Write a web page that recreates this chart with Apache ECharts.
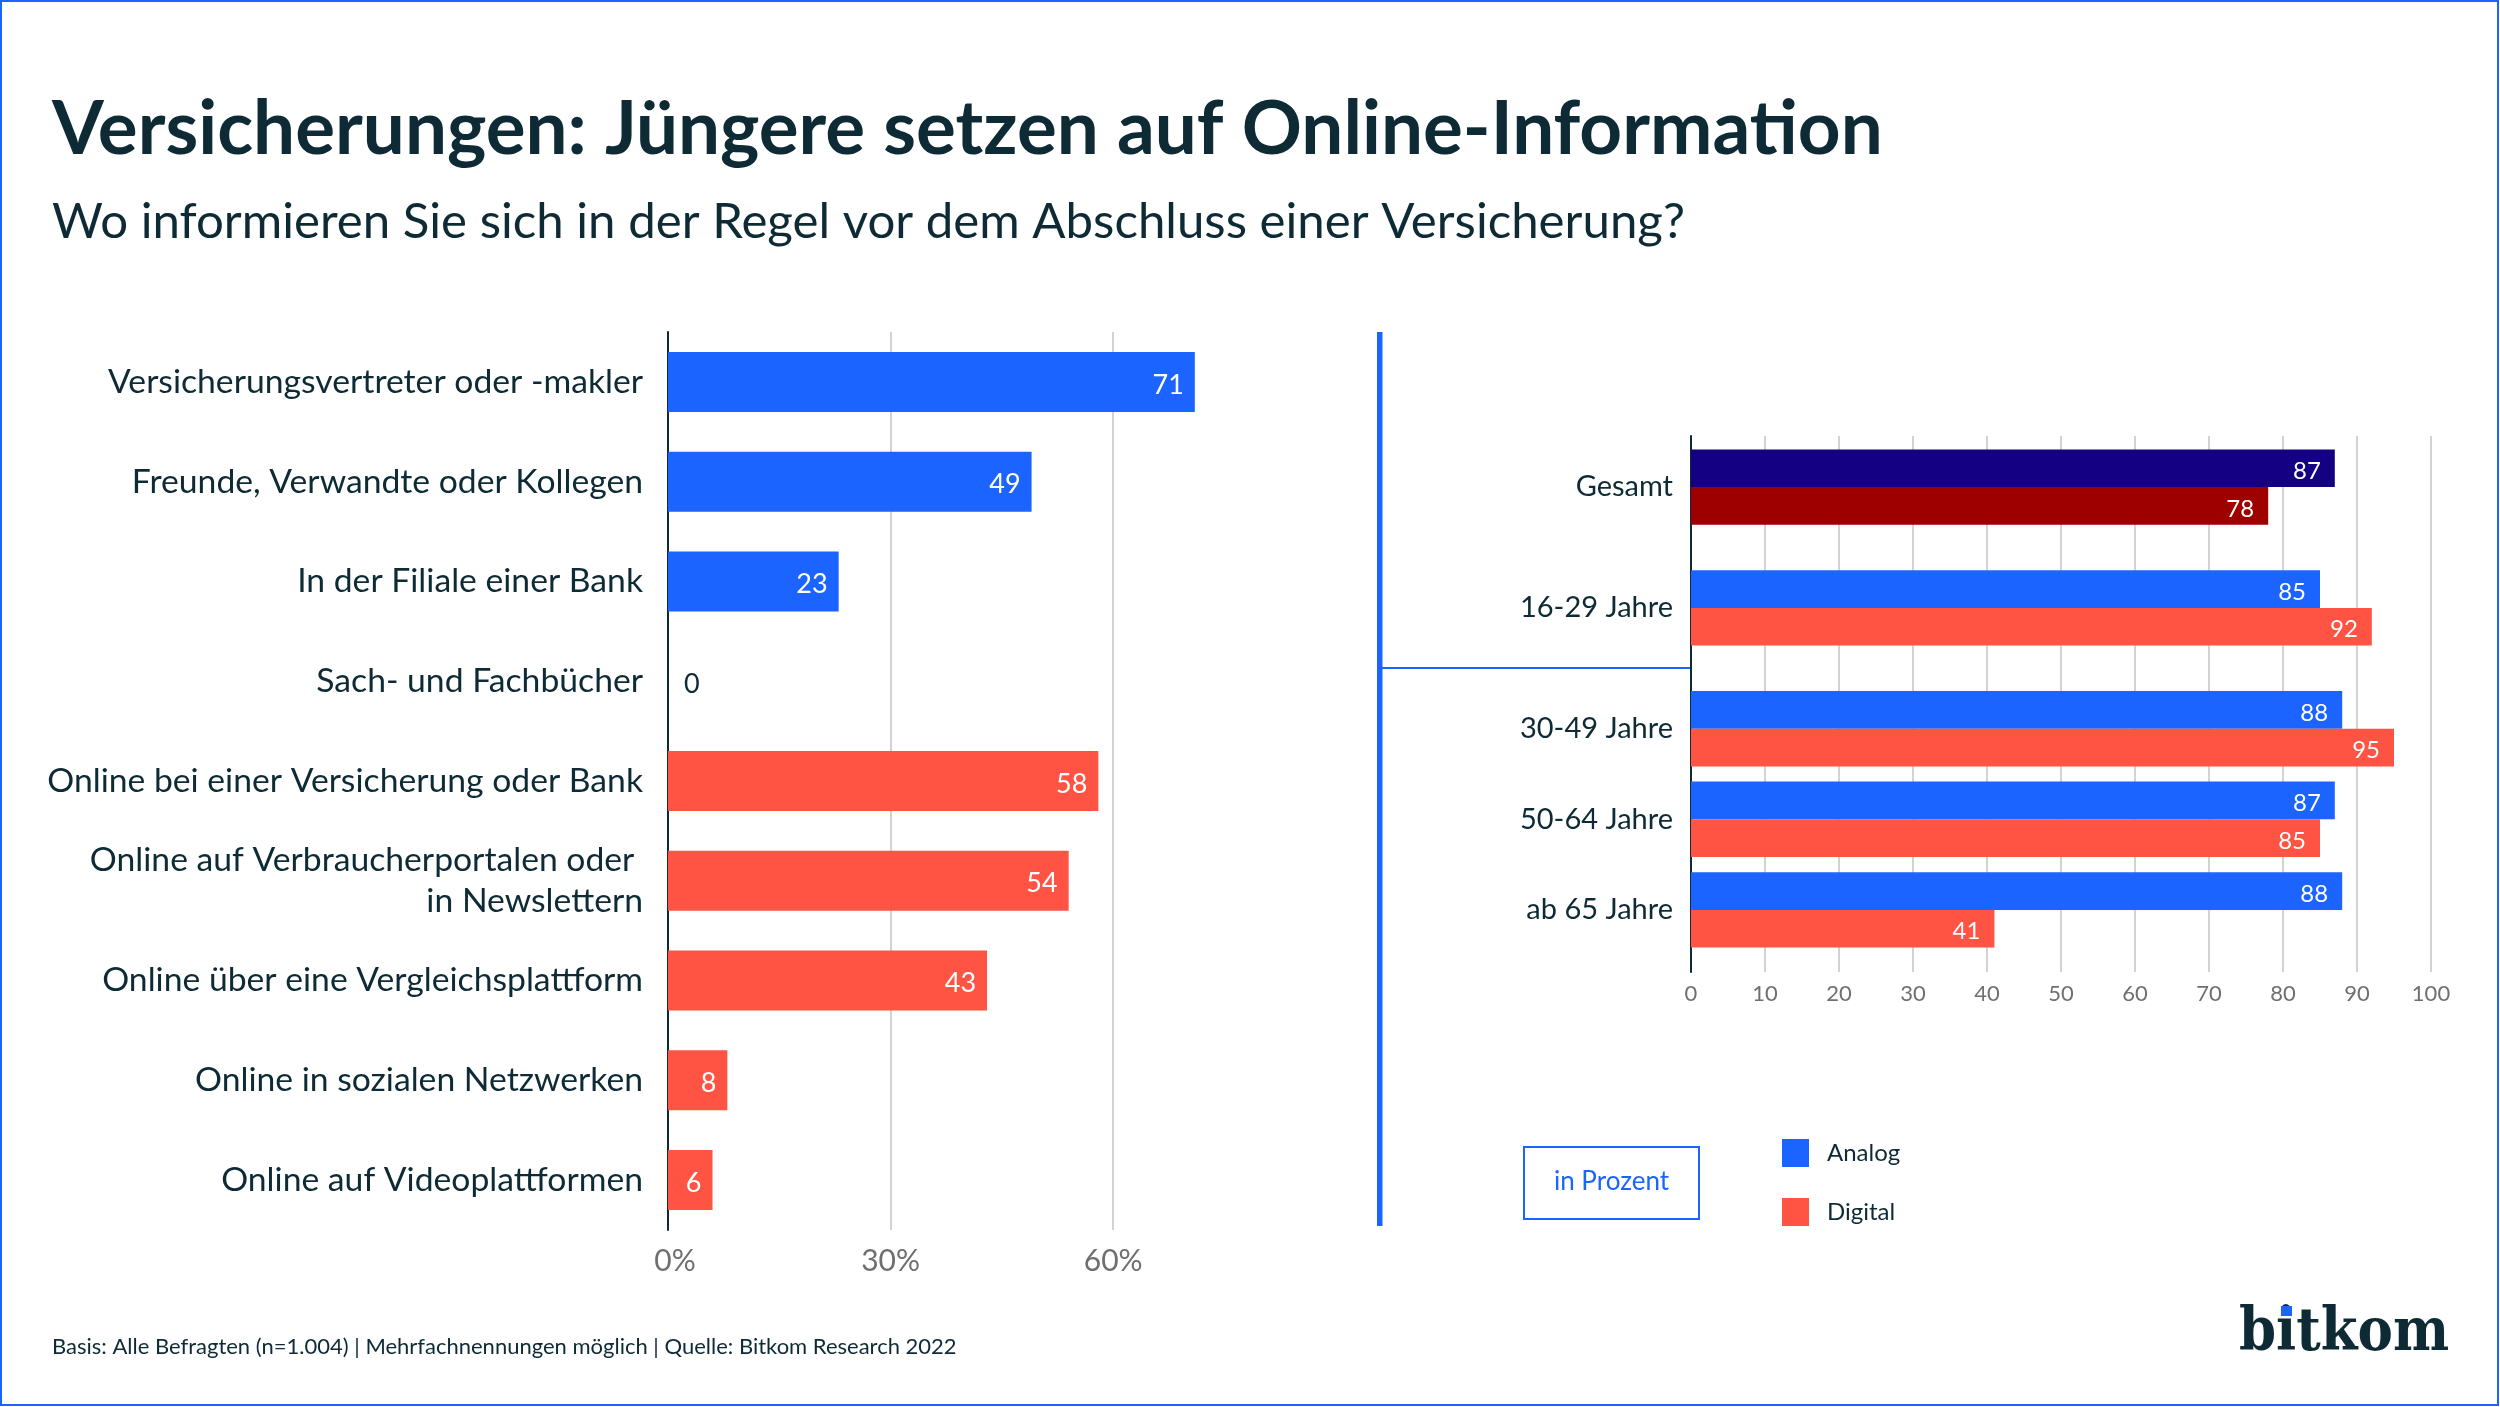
<!DOCTYPE html>
<html>
<head>
<meta charset="utf-8">
<title>Versicherungen</title>
<script src="https://cdn.jsdelivr.net/npm/echarts@6/dist/echarts.min.js"></script>
<style>
    html, body { margin: 0; padding: 0; background: #fff; }
    #chart { width: 2500px; height: 1407px; }
</style>
</head>
<body>
<div id="chart"></div>
<script>
const sources = [
    'Versicherungsvertreter oder -makler',
    'Freunde, Verwandte oder Kollegen',
    'In der Filiale einer Bank',
    'Sach- und Fachbücher',
    'Online bei einer Versicherung oder Bank',
    'Online auf Verbraucherportalen oder \nin Newslettern',
    'Online über eine Vergleichsplattform',
    'Online in sozialen Netzwerken',
    'Online auf Videoplattformen'
];
const sourceValues = [71, 49, 23, 0, 58, 54, 43, 8, 6];
const sourceIsOnline = [false, false, false, false, true, true, true, true, true];

const ageGroups = ['Gesamt', '16-29 Jahre', '30-49 Jahre', '50-64 Jahre', 'ab 65 Jahre'];
const analogValues = [87, 85, 88, 87, 88];
const digitalValues = [78, 92, 95, 85, 41];

const BLUE = '#1c64ff', RED = '#ff5344', NAVY = '#140082', DARK_RED = '#9e0000';
const INK = '#0d2a35', GRID = '#d2d2d2', AXIS_TEXT = '#6f6f6f';
const FONT = 'Lato';

// the age rows are not evenly spaced, they sit on slots with empty ones between
const rowSlots = [0, 4, 8, 11, 14];
const slotCount = 15;
const slotLabels = new Array(slotCount).fill('');
ageGroups.forEach((name, i) => { slotLabels[rowSlots[i]] = name; });

function onSlots(values, firstColor) {
    const out = new Array(slotCount).fill(null);
    values.forEach((v, i) => {
        out[rowSlots[i]] = i === 0 ? {value: v, itemStyle: {color: firstColor}} : v;
    });
    return out;
}

const sourceData = sourceValues.map((v, i) => {
    const item = {value: v, itemStyle: {color: sourceIsOnline[i] ? RED : BLUE}};
    if (v === 0) {
        item.label = {position: 'right', color: INK, distance: 16};
    }
    return item;
});

const valueLabel = {
    show: true,
    position: 'insideRight',
    color: '#fff',
    offset: [0, 3],
    fontFamily: FONT
};

const option = {
    animation: false,
    backgroundColor: '#fff',
    textStyle: {fontFamily: FONT},
    title: [
        {
            left: 47, top: 87,
            text: 'Versicherungen: Jüngere setzen auf Online-Information',
            textStyle: {fontFamily: FONT, fontSize: 74.6, fontWeight: 700, color: INK}
        },
        {
            left: 47, top: 193,
            text: 'Wo informieren Sie sich in der Regel vor dem Abschluss einer Versicherung?',
            textStyle: {fontFamily: FONT, fontSize: 49.2, fontWeight: 400, color: INK}
        },
        {
            left: 47, top: 1331,
            text: 'Basis: Alle Befragten (n=1.004) | Mehrfachnennungen möglich | Quelle: Bitkom Research 2022',
            textStyle: {fontFamily: FONT, fontSize: 22, fontWeight: 400, color: INK}
        }
    ],
    legend: {
        orient: 'vertical',
        left: 1782, top: 1139,
        padding: 0,
        itemWidth: 27, itemHeight: 28, itemGap: 31,
        icon: 'rect',
        selectedMode: false,
        data: ['Analog', 'Digital'],
        textStyle: {fontFamily: FONT, fontSize: 24, color: INK, padding: [3, 0, 0, 13]}
    },
    grid: [
        {left: 668, top: 332, width: 556.5, height: 898},
        {left: 1691, top: 436, width: 740, height: 536},
        {left: 1691, top: 472, width: 740, height: 453}
    ],
    xAxis: [
        {
            gridIndex: 0, type: 'value', min: 0, max: 75, interval: 30,
            axisLine: {show: false}, axisTick: {show: false},
            splitLine: {show: true, showMaxLine: false, lineStyle: {color: GRID, width: 2}},
            axisLabel: {
                margin: 16, showMaxLabel: false, color: AXIS_TEXT, fontSize: 30, fontFamily: FONT,
                formatter: v => (v === 0 ? '{first|0%}' : v + '%'),
                rich: {first: {padding: [0, 0, 0, 14], color: AXIS_TEXT, fontSize: 30, fontFamily: FONT}}
            }
        },
        {
            gridIndex: 1, type: 'value', min: 0, max: 100, interval: 10,
            axisLine: {show: false}, axisTick: {show: false},
            splitLine: {show: true, lineStyle: {color: GRID, width: 2}},
            axisLabel: {margin: 11, color: AXIS_TEXT, fontSize: 22, fontFamily: FONT}
        },
        {gridIndex: 2, type: 'value', min: 0, max: 100, show: false, splitLine: {show: false}}
    ],
    yAxis: [
        {
            gridIndex: 0, type: 'category', inverse: true, data: sources,
            axisLine: {lineStyle: {color: INK, width: 2}}, axisTick: {show: false},
            axisLabel: {margin: 25, padding: [6, 0, 0, 0], color: INK, fontSize: 33.7, lineHeight: 41, fontFamily: FONT, align: 'right'}
        },
        {
            gridIndex: 1, type: 'category', inverse: true, data: [],
            axisLine: {lineStyle: {color: INK, width: 2}}, axisTick: {show: false},
            axisLabel: {show: false}
        },
        {
            gridIndex: 2, type: 'category', inverse: true, data: slotLabels,
            axisLine: {show: false}, axisTick: {show: false},
            axisLabel: {margin: 18, padding: [0, 0, 3, 0], interval: 0, color: INK, fontSize: 29, fontFamily: FONT, align: 'right'}
        }
    ],
    series: [
        {
            name: 'Nennungen', type: 'bar', xAxisIndex: 0, yAxisIndex: 0,
            barWidth: 60,
            data: sourceData,
            label: Object.assign({}, valueLabel, {fontSize: 27, distance: 11})
        },
        {
            name: 'Analog', type: 'bar', xAxisIndex: 2, yAxisIndex: 2,
            barWidth: 37.7, barGap: '0%', clip: false,
            itemStyle: {color: BLUE},
            data: onSlots(analogValues, NAVY),
            label: Object.assign({}, valueLabel, {fontSize: 24, distance: 14})
        },
        {
            name: 'Digital', type: 'bar', xAxisIndex: 2, yAxisIndex: 2,
            barWidth: 37.7, barGap: '0%', clip: false,
            itemStyle: {color: RED},
            data: onSlots(digitalValues, DARK_RED),
            label: Object.assign({}, valueLabel, {fontSize: 24, distance: 14})
        }
    ],
    graphic: [
        {
            type: 'rect', silent: true,
            shape: {x: 1, y: 1, width: 2497, height: 1404},
            style: {fill: null, stroke: BLUE, lineWidth: 2}
        },
        {
            type: 'rect', silent: true,
            shape: {x: 1377, y: 332, width: 5.5, height: 894},
            style: {fill: BLUE}
        },
        {
            type: 'line', silent: true,
            shape: {x1: 1382, y1: 668, x2: 1691, y2: 668},
            style: {stroke: BLUE, lineWidth: 2}
        },
        {
            type: 'rect', silent: true,
            shape: {x: 1524, y: 1147, width: 175, height: 72},
            style: {fill: '#fff', stroke: BLUE, lineWidth: 2}
        },
        {
            type: 'text', silent: true, x: 1611.5, y: 1182,
            style: {
                text: 'in Prozent', fill: BLUE, fontFamily: FONT, fontSize: 26,
                align: 'center', verticalAlign: 'middle'
            }
        },
        {
            type: 'text', silent: true, x: 2344, y: 1335,
            style: {
                text: 'bitkom', fill: INK, fontFamily: '"DejaVu Serif Condensed", "DejaVu Serif"', fontWeight: 700, fontSize: 59,
                align: 'center', verticalAlign: 'middle'
            }
        },
        {
            type: 'rect', silent: true, z: 10,
            shape: {x: 2281, y: 1306, width: 11, height: 10},
            style: {fill: BLUE}
        }
    ]
};

echarts.init(document.getElementById('chart')).setOption(option);
</script>
</body>
</html>
